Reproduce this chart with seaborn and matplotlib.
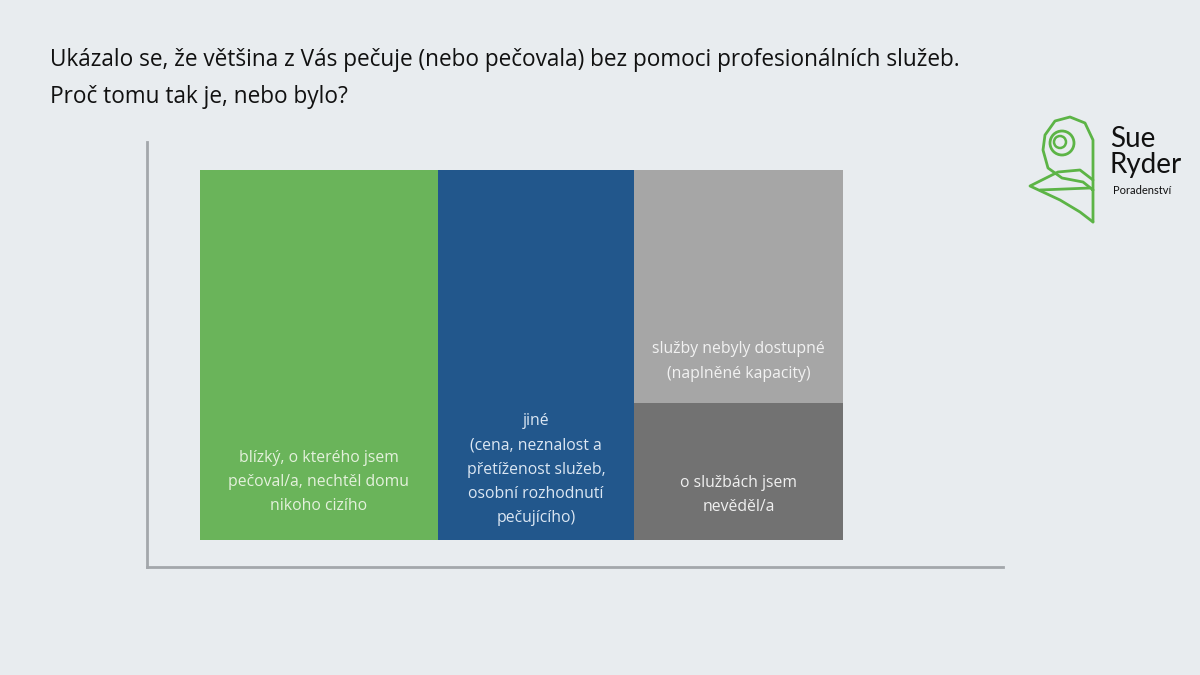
import numpy as np
import pandas as pd
import matplotlib
matplotlib.use('Agg')
import matplotlib.pyplot as plt
import matplotlib.patches as mpatches
import seaborn as sns

# data (podíl odpovědí v %)
labels = [
    'blízký, o kterého jsem\npečoval/a, nechtěl domu\nnikoho cizího',
    'jiné\n(cena, neznalost a\npřetíženost služeb,\nosobní rozhodnutí\npečujícího)',
    'služby nebyly dostupné\n(naplněné kapacity)',
    'o službách jsem\nnevěděl/a',
]
values = [37, 30.5, 20.5, 12]
column = [0, 1, 2, 2]   # sloupec mozaiky
colors = ['#6ab45a', '#22578c', '#a6a6a6', '#727272']
text_colors = ['#e4f1dc', '#dce7f3', '#f2f2f2', '#f0f0f0']
label_pad = [0.157, 0.19, 0.18, 0.33]   # poloha popisku (podíl výšky)

BG = '#e8ecef'
sns.set_theme(style='white')
plt.rcParams['font.family'] = ['Open Sans', 'DejaVu Sans']

df = pd.DataFrame({'label': labels, 'value': values, 'col': column})
col_tot = df.groupby('col')['value'].sum()
col_left = col_tot.cumsum() - col_tot
df['width'] = df['col'].map(col_tot)
df['left'] = df['col'].map(col_left)
df['height'] = 100 * df['value'] / df['width']
# skládání shora dolů uvnitř sloupce
df['bottom'] = 100 - df.groupby('col')['height'].cumsum()

fig = plt.figure(figsize=(12, 6.75), dpi=100, facecolor=BG)
ax = fig.add_axes([147 / 1200, 1 - 567 / 675, 856 / 1200, 425 / 675])
ax.set_facecolor(BG)

ax.bar(df['left'], df['height'], width=df['width'], bottom=df['bottom'],
       align='edge', color=colors, linewidth=0)

for i, r in df.iterrows():
    ax.text(r['left'] + r['width'] / 2, r['bottom'] + r['height'] * label_pad[i],
            r['label'], ha='center', va='center', color=text_colors[i],
            fontsize=11.3, linespacing=1.68)

ax.set_xlim(-8.24, 124.9)
ax.set_ylim(-7.3, 107.6)
ax.set_xticks([])
ax.set_yticks([])
sns.despine(ax=ax)
for s in ['left', 'bottom']:
    ax.spines[s].set_color('#a3a7ab')
    ax.spines[s].set_linewidth(2)

fig.text(50 / 1200, 1 - 60 / 675,
         'Ukázalo se, že většina z Vás pečuje (nebo pečovala) bez pomoci profesionálních služeb.',
         fontsize=16.3, color='#111111', va='center')
fig.text(50 / 1200, 1 - 97 / 675, 'Proč tomu tak je, nebo bylo?',
         fontsize=16.3, color='#111111', va='center')

# logo Sue Ryder
green = '#5cb446'
lax = fig.add_axes([0, 0, 1, 1], facecolor='none')
lax.set_xlim(0, 1200)
lax.set_ylim(675, 0)
lax.axis('off')
outline = [(1093, 222), (1093, 140), (1085, 123), (1070, 117), (1055, 121),
           (1045, 135), (1043, 150), (1048, 168), (1062, 178), (1083, 182),
           (1093, 190)]
lax.plot(*zip(*outline), color=green, lw=2)
lax.plot([1093, 1080, 1060, 1030, 1058, 1080, 1093],
         [222, 212, 200, 186, 172, 170, 180], color=green, lw=2)
lax.add_patch(mpatches.Circle((1062, 143), 12, fill=False, ec=green, lw=2))
lax.add_patch(mpatches.Circle((1060, 142), 6, fill=False, ec=green, lw=1.8))
lax.plot([1040, 1090], [190, 188], color=green, lw=2)
lax.text(1110, 152, 'Sue\nRyder', fontsize=20, color='#111111', va='center',
         linespacing=1.0, family=['Lato', 'DejaVu Sans'])
lax.text(1113, 191, 'Poradenství', fontsize=8, color='#111111', va='center',
         family=['Lato', 'DejaVu Sans'])

fig.savefig('out.png', dpi=100, facecolor=BG)
